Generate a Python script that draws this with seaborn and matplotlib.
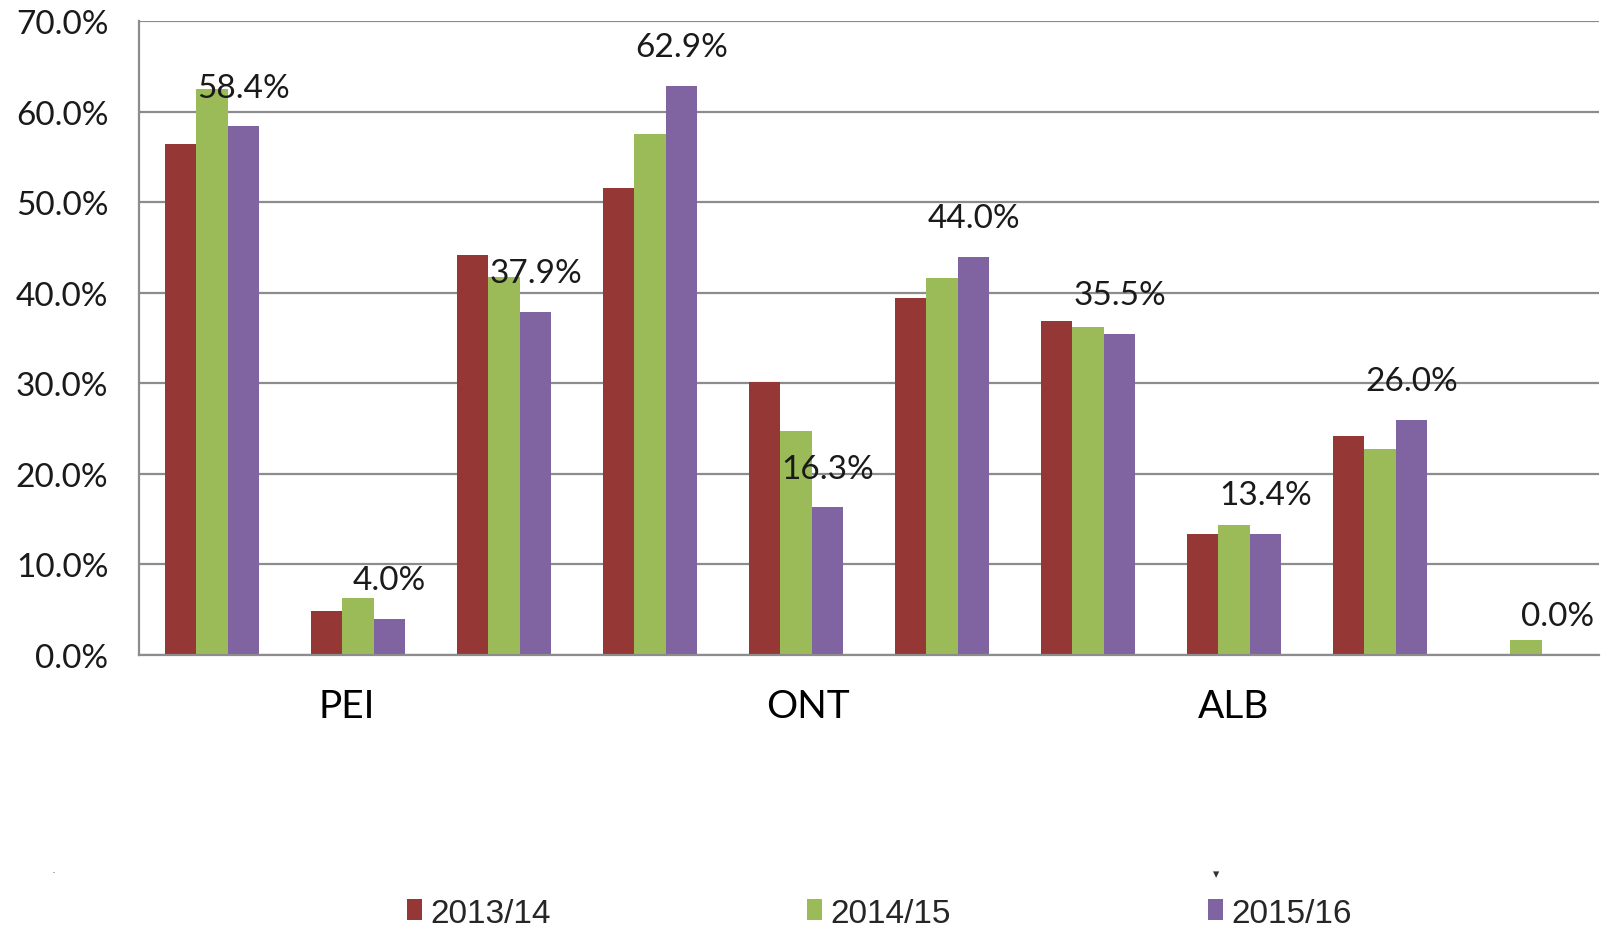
import pandas as pd
import seaborn as sns
import matplotlib.pyplot as plt
from matplotlib.patches import Patch

# Data
groups = [1, 2, 3, 4, 5, 6, 7, 8, 9, 10]
years = ["2013/14", "2014/15", "2015/16"]
vals_1314 = [56.4, 4.9, 44.2, 51.6, 30.2, 39.4, 36.9, 13.4, 24.2, 0.0]
vals_1415 = [62.5, 6.3, 41.8, 57.6, 24.7, 41.6, 36.2, 14.3, 22.8, 1.6]
vals_1516 = [58.4, 4.0, 37.9, 62.9, 16.3, 44.0, 35.5, 13.4, 26.0, 0.0]
region_ticks = [0.92, 4.08, 7.0]
region_labels = ["PEI", "ONT", "ALB"]
yticks = [0, 10, 20, 30, 40, 50, 60, 70]

colors = ["#953735", "#9BBB59", "#8064A2"]

df = pd.DataFrame({
    "group": groups * 3,
    "year": [years[0]] * 10 + [years[1]] * 10 + [years[2]] * 10,
    "value": vals_1314 + vals_1415 + vals_1516,
})

sns.set_style("white")
plt.rcParams["font.family"] = ["Lato", "DejaVu Sans"]

fig = plt.figure(figsize=(16.07, 9.29), dpi=100)
ax = fig.add_axes([0.0865, 0.294, 0.9085, 0.682])

sns.barplot(data=df, x="group", y="value", hue="year", order=groups,
            hue_order=years, palette=colors, width=0.65, saturation=1,
            linewidth=0, ax=ax, legend=False)

ax.set_ylim(0, 70)
ax.set_xlim(-0.5, 9.5)
ax.set_yticks(yticks)
ax.set_yticklabels([f"{v:.1f}%" for v in yticks], fontsize=24, color="#1a1a1a")
ax.set_xticks(region_ticks)
ax.set_xticklabels(region_labels, fontsize=28, color="black")
ax.tick_params(axis="y", length=0, pad=22)
ax.tick_params(axis="x", length=0, pad=24)
ax.set_xlabel("")
ax.set_ylabel("")

ax.yaxis.grid(True, color="#8c8c8c", linewidth=1.6)
ax.set_axisbelow(True)
for side in ["top", "right"]:
    ax.spines[side].set_visible(False)
for side in ["left", "bottom"]:
    ax.spines[side].set_color("#8c8c8c")
    ax.spines[side].set_linewidth(1.6)

# labels over the 2015/16 bars
purple = ax.containers[2]
ax.bar_label(purple, labels=[f"{v:.1f}%" for v in vals_1516],
             padding=17, fontsize=24, color="#1a1a1a")

handles = [Patch(facecolor=c, edgecolor="none") for c in colors]
fig.legend(handles, years, loc="center", bbox_to_anchor=(0.547, 0.016),
           ncol=3, frameon=False, handlelength=0.45,
           handleheight=0.6, handletextpad=0.25, columnspacing=7.7,
           prop={"family": "Liberation Sans", "size": 24})

# little stray marks in the original
fig.text(0.033, 0.06, ".", fontsize=6, color="#444444")
fig.text(0.755, 0.055, "▾", fontsize=9, color="#333333", family="DejaVu Sans")

fig.savefig("out.png", dpi=100)
